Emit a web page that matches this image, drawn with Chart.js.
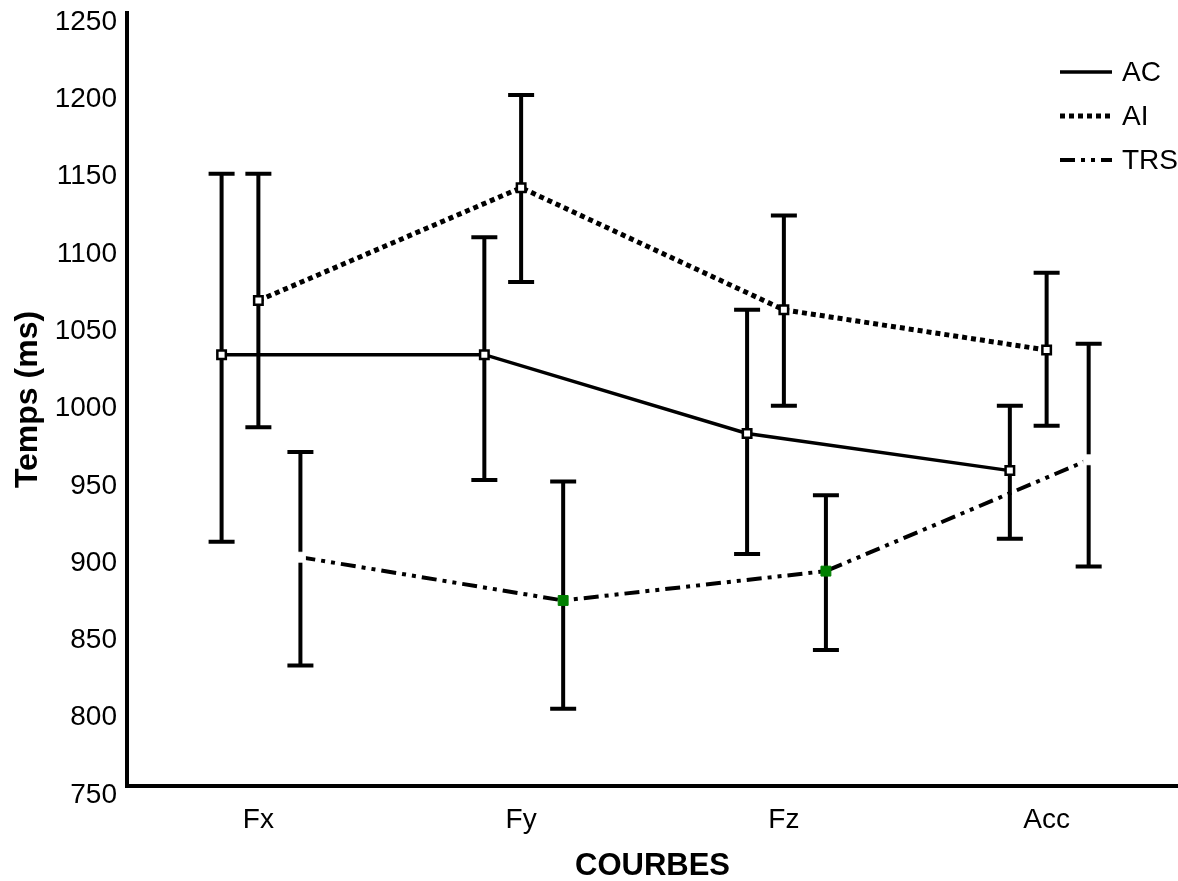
<!DOCTYPE html>
<html>
<head>
<meta charset="utf-8">
<script src="https://cdn.jsdelivr.net/npm/chart.js@4.4.1/dist/chart.umd.min.js"></script>
<style>
  html, body { margin: 0; padding: 0; background: #fff; }
  canvas { display: block; }
</style>
</head>
<body>
<canvas id="chart" width="1178" height="881"></canvas>
<script>
// --- Données ---
const categories = ['Fx', 'Fy', 'Fz', 'Acc'];
const yTicks = [750, 800, 850, 900, 950, 1000, 1050, 1100, 1150, 1200, 1250];

const acMean = [1029, 1029, 978, 954];
const acLow  = [908, 948, 900, 910];
const acHigh = [1146, 1105, 1058, 996];

const aiMean = [1064, 1137, 1058, 1032];
const aiLow  = [982, 1076, 996, 983];
const aiHigh = [1146, 1197, 1119, 1082];

const trsMean = [898, 870, 889, 961];
const trsLow  = [828, 800, 838, 892];
const trsHigh = [966, 947, 938, 1036];

// décalage horizontal de chaque série autour de la catégorie
const AC_SHIFT = -0.14;
const AI_SHIFT = 0;
const TRS_SHIFT = 0.16;

Chart.defaults.font.family = "'Liberation Sans', Arial, sans-serif";
Chart.defaults.color = '#000';

function toPoints(values, shift) {
    return values.map((v, i) => ({ x: i + shift, y: v }));
}

// --- Barres d'erreur (dessinées sous les courbes) ---
const errorBars = {
    id: 'errorBars',
    beforeDatasetsDraw(chart) {
        const { ctx, scales: { x, y } } = chart;
        const cap = 13;
        ctx.save();
        ctx.strokeStyle = '#000';
        ctx.lineWidth = 4;
        ctx.lineCap = 'butt';
        chart.data.datasets.forEach(ds => {
            ds.data.forEach((pt, i) => {
                const px = x.getPixelForValue(pt.x);
                const top = y.getPixelForValue(ds.errHigh[i]);
                const bottom = y.getPixelForValue(ds.errLow[i]);
                ctx.beginPath();
                ctx.moveTo(px, top);
                ctx.lineTo(px, bottom);
                ctx.moveTo(px - cap, top);
                ctx.lineTo(px + cap, top);
                ctx.moveTo(px - cap, bottom);
                ctx.lineTo(px + cap, bottom);
                ctx.stroke();
            });
        });
        ctx.restore();
    }
};

// --- Légende en haut à droite ---
const lineLegend = {
    id: 'lineLegend',
    afterDraw(chart) {
        const { ctx, chartArea } = chart;
        const x0 = chartArea.right - 118;
        const x1 = chartArea.right - 66;
        const startY = 72;
        const stepY = 44;
        ctx.save();
        chart.data.datasets.forEach((ds, i) => {
            const yy = startY + i * stepY;
            ctx.strokeStyle = '#000';
            ctx.lineWidth = ds.borderWidth;
            ctx.setLineDash(ds.borderDash || []);
            ctx.beginPath();
            ctx.moveTo(x0, yy);
            ctx.lineTo(x1, yy);
            ctx.stroke();
            ctx.setLineDash([]);
            ctx.fillStyle = '#000';
            ctx.font = "28px 'Liberation Sans', Arial, sans-serif";
            ctx.textBaseline = 'middle';
            ctx.textAlign = 'left';
            ctx.fillText(ds.label, x1 + 10, yy + 1);
        });
        ctx.restore();
    }
};

new Chart(document.getElementById('chart'), {
    type: 'line',
    data: {
        datasets: [
            {
                label: 'AC',
                data: toPoints(acMean, AC_SHIFT),
                errLow: acLow,
                errHigh: acHigh,
                borderColor: '#000',
                borderWidth: 3.5,
                pointStyle: 'rect',
                pointRadius: 6,
                pointBackgroundColor: '#fff',
                pointBorderColor: '#000',
                pointBorderWidth: 2.5
            },
            {
                label: 'AI',
                data: toPoints(aiMean, AI_SHIFT),
                errLow: aiLow,
                errHigh: aiHigh,
                borderColor: '#000',
                borderWidth: 5,
                borderDash: [5, 4],
                pointStyle: 'rect',
                pointRadius: 6,
                pointBackgroundColor: '#fff',
                pointBorderColor: '#000',
                pointBorderWidth: 2.5
            },
            {
                label: 'TRS',
                data: toPoints(trsMean, TRS_SHIFT),
                errLow: trsLow,
                errHigh: trsHigh,
                borderColor: '#000',
                borderWidth: 4,
                borderDash: [15, 6, 4, 6, 4, 6],
                pointStyle: 'rect',
                pointRadius: 7,
                pointBackgroundColor: ['#fff', '#008000', '#008000', '#fff'],
                pointBorderColor: ['#fff', '#008000', '#008000', '#fff'],
                pointBorderWidth: 1
            }
        ]
    },
    options: {
        responsive: false,
        animation: false,
        layout: { autoPadding: false, padding: { top: 13, right: 0, bottom: 0, left: 0 } },
        plugins: {
            legend: { display: false },
            tooltip: { enabled: false }
        },
        scales: {
            x: {
                type: 'linear',
                min: -0.5,
                max: 3.5,
                afterBuildTicks: scale => {
                    scale.ticks = categories.map((c, i) => ({ value: i }));
                },
                afterFit: scale => {
                    scale.height = 95;
                    scale.paddingLeft = 0;
                    scale.paddingRight = 0;
                },
                grid: { display: false, drawTicks: false },
                border: { display: true, color: '#000', width: 4 },
                ticks: {
                    padding: 17,
                    font: { size: 28 },
                    callback: value => categories[value]
                },
                title: {
                    display: true,
                    text: 'COURBES',
                    font: { size: 31, weight: 'bold' },
                    padding: { top: 0, bottom: -4 }
                }
            },
            y: {
                min: 750,
                max: 1250,
                afterBuildTicks: scale => {
                    scale.ticks = yTicks.map(v => ({ value: v }));
                },
                afterFit: scale => {
                    scale.width = 127;
                    scale.paddingTop = 0;
                    scale.paddingBottom = 0;
                },
                grid: { display: false, drawTicks: false },
                border: { display: true, color: '#000', width: 4 },
                ticks: {
                    padding: 10,
                    labelOffset: 9,
                    font: { size: 28 },
                    callback: value => String(value)
                },
                title: {
                    display: true,
                    text: 'Temps (ms)',
                    font: { size: 32, weight: 'bold' },
                    padding: { top: 9, bottom: 0 }
                }
            }
        }
    },
    plugins: [errorBars, lineLegend]
});
</script>
</body>
</html>
